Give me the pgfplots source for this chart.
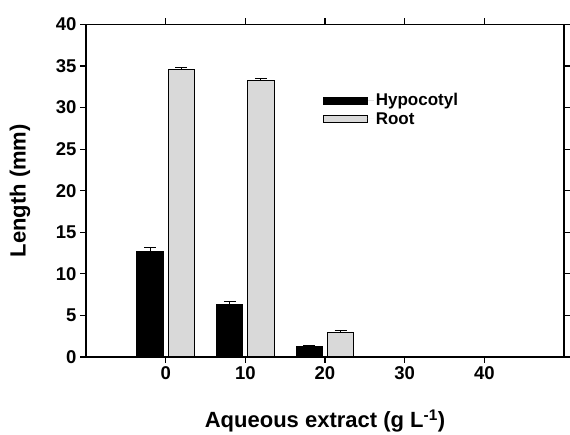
\documentclass[border=0pt]{standalone}
\usepackage{pgfplots}
\pgfplotsset{compat=1.18}
\usepackage{fontspec}
\setmainfont{Liberation Sans}
\definecolor{rootgray}{HTML}{D9D9D9}
\begin{document}
\begin{tikzpicture}
\useasboundingbox (0pt,0pt) rectangle (570pt,435pt);
\begin{axis}[
  at={(86pt,78pt)}, anchor=south west,
  scale only axis, width=478pt, height=332.5pt,
  xmin=-10, xmax=50, ymin=0, ymax=40,
  xtick={0,10,20,30,40}, ytick={0,5,...,40},
  tick align=outside, major tick length=6pt,
  axis line style={line width=1.3pt},
  tick style={line width=1.2pt, black},
  ticklabel style={font=\bfseries\fontsize{18.5}{22}\selectfont},
  /pgf/number format/assume math mode=true,
  xlabel={Aqueous extract (g L\textsuperscript{-1})},
  ylabel={Length (mm)},
  label style={font=\bfseries\fontsize{22}{26}\selectfont},
  xlabel style={at={(axis description cs:0.5,-0.2135)}, anchor=base},
  ylabel style={at={(axis description cs:-0.138,0.5)}, anchor=center},
  legend cell align=left,
  legend style={at={(axis description cs:0.49,0.805)}, anchor=north west,
    draw=none, fill=none, font=\bfseries\fontsize{17}{20}\selectfont,
    row sep=1pt},
  legend image code/.code={\draw[#1, line width=0.8pt] (0pt,-3.5pt) rectangle (44pt,3.5pt); \path[draw=none] (0pt,0pt) -- (50pt,0pt);},
]
\addplot[ybar, bar width=3.3, bar shift=0pt, fill=black, draw=black, line width=1pt,
  error bars/.cd, y dir=plus, y explicit,
  error bar style={line width=1.2pt, black},
  error mark options={rotate=90, mark size=6pt, line width=1.2pt, black}]
  coordinates {(-1.95,12.7) +- (0,0.5) (8.05,6.3) +- (0,0.4) (18.05,1.3) +- (0,0.1)};
\addlegendentry{Hypocotyl}
\addplot[ybar, bar width=3.3, bar shift=0pt, fill=rootgray, draw=black, line width=1pt,
  error bars/.cd, y dir=plus, y explicit,
  error bar style={line width=1.2pt, black},
  error mark options={rotate=90, mark size=6pt, line width=1.2pt, black}]
  coordinates {(1.95,34.6) +- (0,0.2) (11.95,33.3) +- (0,0.2) (21.95,2.9) +- (0,0.3)};
\addlegendentry{Root}
\end{axis}
\end{tikzpicture}
\end{document}
